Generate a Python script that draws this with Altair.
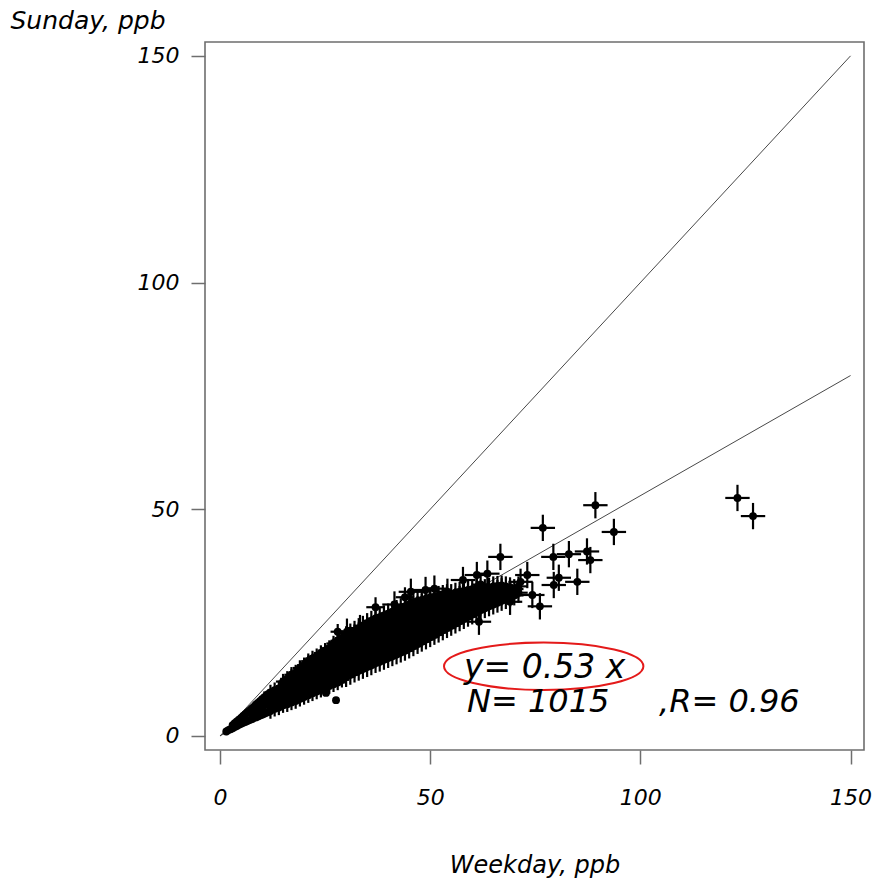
import altair as alt
import pandas as pd

# ---- data (Weekday ppb, Sunday ppb) ----
# dense cloud, given column by column: (weekday value, [sunday values])
cloud_low = [(1.5,[1.0]),(2.0,[1.3]),(2.5,[1.5]),(3.0,[1.7,2.4]),(3.5,[2.0,2.8]),(4.0,[2.2,3.2]),
             (4.5,[2.5,3.6]),(5.0,[2.7,4.0]),(5.5,[2.9,4.4]),(6.0,[3.1,4.8]),(6.5,[3.3,5.2]),
             (7.0,[3.5,5.6]),(7.5,[3.7,5.0,6.0]),(8.0,[3.9,5.3,6.4]),(8.5,[4.1,5.6,6.9]),
             (9.0,[4.3,5.9,7.3]),(9.5,[4.5,6.2,7.7]),(10.0,[4.7,6.4,8.1]),(10.5,[4.9,6.7,8.5]),
             (11.0,[5.1,7.0,8.9]),(11.5,[5.3,7.3,9.3])]
cloud_mid = [(12,[5.5,6.9,8.3,9.6]),(13,[6.0,7.4,8.8,10.1]),(14,[6.3,7.7,9.1,10.5]),
             (15,[6.8,8.2,9.6,11.0,12.0]),(16,[7.0,8.4,9.8,11.2,12.6]),
             (17,[7.4,8.8,10.2,11.6,13.0,13.5]),(18,[7.7,9.1,10.5,11.9,13.3,14.0]),
             (19,[8.2,9.6,11.0,12.4,13.8,15.0]),(20,[8.6,10.0,11.4,12.8,14.2,15.6]),
             (21,[9.0,10.4,11.8,13.2,14.6,16.0,16.5]),(22,[9.4,10.8,12.2,13.6,15.0,16.4,17.1]),
             (23,[9.8,11.2,12.6,14.0,15.4,16.8,17.6]),(24,[10.2,11.6,13.0,14.4,15.8,17.2,18.3]),
             (25,[10.6,12.0,13.4,14.8,16.2,17.6,18.8]),(26,[11.0,12.4,13.8,15.2,16.6,18.0,19.4]),
             (27,[11.4,12.8,14.2,15.6,17.0,18.4,19.8,20.4]),
             (28,[11.8,13.2,14.6,16.0,17.4,18.8,20.2,21.0,23.0]),
             (29,[12.4,13.8,15.2,16.6,18.0,19.4,20.8,21.6])]
cloud_high = [(30,[13.0,14.4,15.8,17.2,18.6,20.0,21.4,22.0]),(31,[13.5,14.9,16.3,17.7,19.1,20.5,21.9,22.6]),
              (32,[14.0,15.4,16.8,18.2,19.6,21.0,22.4,23.2]),(33,[14.4,15.8,17.2,18.6,20.0,21.4,22.8,23.8]),
              (34,[14.8,16.2,17.6,19.0,20.4,21.8,23.2,24.3]),(35,[15.2,16.6,18.0,19.4,20.8,22.2,23.6,24.9]),
              (36,[15.6,17.0,18.4,19.8,21.2,22.6,24.0,25.4]),
              (37,[16.1,17.5,18.9,20.3,21.7,23.1,24.5,25.9,28.4]),
              (38,[16.4,17.8,19.2,20.6,22.0,23.4,24.8,26.2]),(39,[16.8,18.2,19.6,21.0,22.4,23.8,25.2,26.6]),
              (40,[17.2,18.6,20.0,21.4,22.8,24.2,25.6,27.0]),(41,[17.6,19.0,20.4,21.8,23.2,24.6,26.0,27.4]),
              (42,[18.0,19.4,20.8,22.2,23.6,25.0,26.4,27.8]),(43,[18.4,19.8,21.2,22.6,24.0,25.4,26.8,28.2]),
              (44,[18.8,20.2,21.6,23.0,24.4,25.8,27.2,28.6,30.6]),
              (45,[19.3,20.7,22.1,23.5,24.9,26.3,27.7,29.0]),(46,[19.8,21.2,22.6,24.0,25.4,26.8,28.2,29.5]),
              (47,[20.3,21.7,23.1,24.5,25.9,27.3,28.7,29.8]),(48,[20.8,22.2,23.6,25.0,26.4,27.8,29.2,30.0]),
              (49,[21.3,22.7,24.1,25.5,26.9,28.3,29.7,30.3]),(50,[21.8,23.2,24.6,26.0,27.4,28.8,30.2,30.6]),
              (51,[22.3,23.7,25.1,26.5,27.9,29.3,30.7]),(52,[22.8,24.2,25.6,27.0,28.4,29.8,30.9]),
              (53,[23.3,24.7,26.1,27.5,28.9,30.3,31.1]),(54,[23.8,25.2,26.6,28.0,29.4,30.8,31.3]),
              (55,[24.3,25.7,27.1,28.5,29.9,31.3]),(56,[24.8,26.2,27.6,29.0,30.4,31.6]),
              (57,[25.3,26.7,28.1,29.5,30.9,31.8]),(58,[25.8,27.2,28.6,30.0,31.4,32.0]),
              (59,[26.3,27.7,29.1,30.5,31.9,32.2]),(60,[26.8,28.2,29.6,31.0,32.4]),
              (61,[27.3,28.7,30.1,31.5,32.6]),(62,[27.8,29.2,30.6,32.0,33.4]),
              (63,[28.2,29.6,31.0,32.4]),(64,[28.6,30.0,31.4,32.7]),(65,[29.0,30.4,31.8,33.0]),
              (66,[29.4,30.8,32.2,33.1]),(67,[29.8,31.2,32.6,33.2]),(68,[30.2,31.6,33.0]),
              (69,[30.6,32.0,32.8]),(70,[31.0,32.4]),(71,[31.6,33.0])]
# scattered sites
outliers = [(89.3,50.9),(76.8,45.9),(93.7,45.0),(66.7,39.5),(79.3,39.5),(83.0,40.1),(87.3,40.7),
            (88.1,38.8),(80.6,34.9),(79.4,33.3),(85.0,34.0),(73.1,35.5),(71.5,34.0),(74.3,31.1),
            (76.1,28.6),(69.0,29.6),(61.6,25.2),(63.6,35.8),(45.4,31.8),(48.9,32.2),(54.1,31.8),
            (123.1,52.5),(126.8,48.5),(30.2,23.0),(33.3,23.8),(41.5,29.0),(51.0,32.5),
            (57.8,34.4),(61.1,35.5)]
low_points = [(25.2,9.5),(27.6,7.9)]
# half-length of the error bars (ppb) for each group
group_err = {"low": 0.8, "mid": 1.7, "high": 2.2, "out": 2.9, "single": 0.3}

# reference lines
line_x = [0, 150]
identity_slope = 1.0
fit_slope = 0.53

rows = []
for name, cols in [("low", cloud_low), ("mid", cloud_mid), ("high", cloud_high)]:
    for x, ys in cols:
        for y in ys:
            rows.append({"x": x, "y": y, "e": group_err[name]})
for name, pts in [("out", outliers), ("single", low_points)]:
    for x, y in pts:
        rows.append({"x": x, "y": y, "e": group_err[name]})
pts_df = pd.DataFrame(rows)

lines_df = pd.DataFrame(
    [{"x": v, "y": v * identity_slope, "line": "identity"} for v in line_x]
    + [{"x": v, "y": v * fit_slope, "line": "fit"} for v in line_x]
)

FONT = "DejaVu Sans"
xscale = alt.Scale(domain=[-3.57, 153.2], nice=False, zero=False)
yscale = alt.Scale(domain=[-3.09, 153.06], nice=False, zero=False)

xaxis = alt.Axis(values=[0, 50, 100, 150], title="Weekday, ppb", grid=False, domain=False,
                 tickSize=14, tickColor="#6e6e6e", tickWidth=1.5, labelPadding=23,
                 labelFont=FONT, labelFontSize=22, labelFontStyle="italic", labelColor="black",
                 labelBaseline="top",
                 titleFont=FONT, titleFontSize=24, titleFontStyle="italic", titleFontWeight="normal",
                 titleColor="black", titleY=122, titleBaseline="alphabetic")
yaxis = alt.Axis(values=[0, 50, 100, 150], title="Sunday, ppb", grid=False, domain=False,
                 tickSize=14, tickColor="#6e6e6e", tickWidth=1.5, labelPadding=12,
                 labelFont=FONT, labelFontSize=22, labelFontStyle="italic", labelColor="black",
                 titleFont=FONT, titleFontSize=25, titleFontStyle="italic", titleFontWeight="normal",
                 titleColor="black", titleAngle=0, titleAlign="left", titleX=-195, titleY=-14,
                 titleBaseline="alphabetic")

lines = alt.Chart(lines_df).mark_line(color="#333333", strokeWidth=0.9, clip=True).encode(
    x=alt.X("x:Q", scale=xscale, axis=xaxis),
    y=alt.Y("y:Q", scale=yscale, axis=yaxis),
    detail="line:N",
)

base = alt.Chart(pts_df).transform_calculate(
    xlo="datum.x - datum.e", xhi="datum.x + datum.e",
    ylo="datum.y - datum.e", yhi="datum.y + datum.e",
)
hbars = base.mark_rule(color="black", strokeWidth=2.2).encode(
    x=alt.X("xlo:Q", scale=xscale), x2="xhi:Q", y=alt.Y("y:Q", scale=yscale)
)
vbars = base.mark_rule(color="black", strokeWidth=2.2).encode(
    x=alt.X("x:Q", scale=xscale), y=alt.Y("ylo:Q", scale=yscale), y2="yhi:Q"
)
dots = base.mark_circle(color="black", opacity=1, size=62).encode(
    x=alt.X("x:Q", scale=xscale), y=alt.Y("y:Q", scale=yscale)
)

ann_df = pd.DataFrame({"t": ["y= 0.53 x", "N= 1015", ",R= 0.96"]})
txt_style = dict(font=FONT, fontStyle="italic", color="black",
                 align="left", baseline="alphabetic")
t1 = alt.Chart(ann_df).transform_filter("datum.t == 'y= 0.53 x'").mark_text(fontSize=33, **txt_style).encode(
    text="t:N", x=alt.value(259), y=alt.value(636))
t2 = alt.Chart(ann_df).transform_filter("datum.t == 'N= 1015'").mark_text(fontSize=32, **txt_style).encode(
    text="t:N", x=alt.value(262), y=alt.value(670))
t3 = alt.Chart(ann_df).transform_filter("datum.t == ',R= 0.96'").mark_text(fontSize=32, **txt_style).encode(
    text="t:N", x=alt.value(454), y=alt.value(670))

ellipse_path = "M -1 0 A 1 0.238 0 1 1 1 0 A 1 0.238 0 1 1 -1 0 Z"
ellipse = alt.Chart(ann_df).transform_filter("datum.t == 'y= 0.53 x'").mark_point(
    shape=ellipse_path, size=39760, filled=False, stroke="#e41a1a", strokeWidth=2, opacity=1
).encode(x=alt.value(338.7), y=alt.value(624.3))

chart = alt.layer(lines, hbars, vbars, dots, ellipse, t1, t2, t3).properties(
    width=659, height=708,
    autosize=alt.AutoSizeParams(type="none"),
    padding={"left": 205, "top": 42, "right": 13, "bottom": 134},
    background="white",
).configure_view(stroke="#6e6e6e", strokeWidth=1.6)

chart.save("out.html", embed_options={"renderer": "svg", "actions": False})
